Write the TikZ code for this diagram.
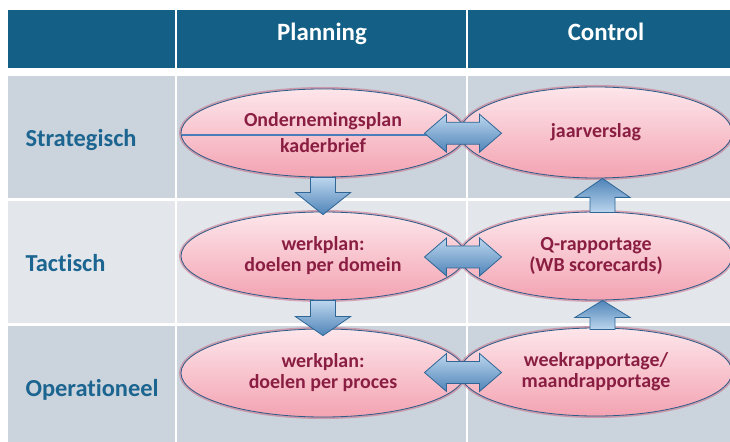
\documentclass[tikz,border=0pt]{standalone}
\usepackage{fontspec}
\setmainfont{Carlito}[Ligatures=NoCommon]
\usetikzlibrary{shapes.geometric,calc}
\definecolor{hdr}{HTML}{135F85}
\definecolor{bandA}{HTML}{CBD3DC}
\definecolor{bandB}{HTML}{E3E7EC}
\definecolor{lbl}{HTML}{1B6590}
\definecolor{ovtop}{HTML}{FDE6EB}
\definecolor{ovbot}{HTML}{F3A3B2}
\definecolor{ovedge}{HTML}{2C5C88}
\definecolor{ovglow}{HTML}{C8607E}
\definecolor{ovtext}{HTML}{8A1E42}
\definecolor{arlight}{HTML}{BCD6EE}
\definecolor{ardark}{HTML}{4F84B8}
\definecolor{aredge}{HTML}{2E6696}
\definecolor{divline}{HTML}{4A7EBB}

\begin{document}
\begin{tikzpicture}[x=1bp,y=-1bp,
  oval/.style={ellipse, inner sep=0pt, minimum width=284bp, minimum height=88bp,
    top color=ovtop, bottom color=ovbot, draw=ovedge, line width=0.8bp,
    preaction={draw=ovglow, line width=4bp, opacity=0.5},
    font=\bfseries\fontsize{20}{21}\selectfont, text=ovtext, align=center},
  ovalR/.style={oval, minimum width=272bp},
  arrowdown/.style={top color=arlight, bottom color=ardark, draw=aredge, line width=0.8bp, line join=miter},
  arrowup/.style={top color=ardark, bottom color=arlight, draw=aredge, line width=0.8bp, line join=miter},
  rowlabel/.style={anchor=base west, font=\bfseries\fontsize{24.5}{27}\selectfont, text=lbl},
  colhead/.style={anchor=base, font=\bfseries\fontsize{25}{28}\selectfont, text=white}]

\useasboundingbox (0,0) rectangle (730,442);
\fill[white] (0,0) rectangle (730,442);

% table bands
\fill[hdr] (8,10) rectangle (730,68);
\fill[bandA] (8,76) rectangle (730,198);
\fill[bandB] (8,201) rectangle (730,323);
\fill[bandA] (8,326) rectangle (730,442);
\fill[white] (175,10) rectangle (177,442);
\fill[white] (466,10) rectangle (468,442);

% headings
\node[colhead] (hplan) at (322,41) {Planning};
\node[colhead] (hctrl) at (606,41) {Control};
\node[rowlabel] (lstrat) at (22,147) {Strategisch};
\node[rowlabel] (ltact) at (22,272) {Tactisch};
\node[rowlabel] (loper) at (22,396) {Operationeel};

% documents
\node[oval, minimum height=88bp] (sp) at (323,133) {Ondernemingsplan\\[5bp]kaderbrief};
\node[ovalR, minimum height=91bp] (sc) at (596,132.5) {jaarverslag};
\node[oval, minimum height=88bp] (tp) at (323,256) {werkplan:\\doelen per domein};
\node[ovalR, minimum height=88bp] (tc) at (596,256) {Q-rapportage\\(WB scorecards)};
\node[oval, minimum height=88bp] (op) at (323,373) {werkplan:\\doelen per proces};
\node[ovalR, minimum height=88bp] (oc) at (596,372) {weekrapportage/\\maandrapportage};

% divider inside the strategic plan
\draw[divline, line width=2.5bp] ($(sp.west)+(1,2)$) -- ($(sp.east)+(-30,2)$);

% planning flows downward
\draw[arrowdown] ($(sp.south)+(-12.5,0)$) -- ($(sp.south)+(12.5,0)$)
  -- ($(tp.north)+(12.5,-19)$) -- ($(tp.north)+(27.5,-19)$) -- ($(tp.north)+(0,3)$)
  -- ($(tp.north)+(-27.5,-19)$) -- ($(tp.north)+(-12.5,-19)$) -- cycle;
\draw[arrowdown] ($(tp.south)+(-12.5,0)$) -- ($(tp.south)+(12.5,0)$)
  -- ($(op.north)+(12.5,-12)$) -- ($(op.north)+(27.5,-12)$) -- ($(op.north)+(0,7)$)
  -- ($(op.north)+(-27.5,-12)$) -- ($(op.north)+(-12.5,-12)$) -- cycle;

% control flows upward
\draw[arrowup] ($(tc.north)+(-6,1)$) -- ($(tc.north)+(19,1)$)
  -- ($(sc.south)+(19,19)$) -- ($(sc.south)+(34,19)$) -- ($(sc.south)+(6.5,0)$)
  -- ($(sc.south)+(-21,19)$) -- ($(sc.south)+(-6,19)$) -- cycle;
\draw[arrowup] ($(oc.north)+(-6,2)$) -- ($(oc.north)+(19,2)$)
  -- ($(tc.south)+(19,17)$) -- ($(tc.south)+(34,17)$) -- ($(tc.south)+(6.5,0)$)
  -- ($(tc.south)+(-21,17)$) -- ($(tc.south)+(-6,17)$) -- cycle;

% planning <-> control
\coordinate (m1) at ($(sp.east)!0.5!(sc.west)+(0.5,0.5)$);
\coordinate (m2) at ($(tp.east)!0.5!(tc.west)+(0.5,1)$);
\coordinate (m3) at ($(op.east)!0.5!(oc.west)+(0.5,0)$);
\foreach \m in {m1,m2,m3}{
  \draw[arrowdown] (\m) ++(-38.5,0) -- ++(22,-19) -- ++(0,8) -- ++(33,0) -- ++(0,-8)
    -- ++(22,19) -- ++(-22,19) -- ++(0,-8) -- ++(-33,0) -- ++(0,8) -- cycle;
}
\end{tikzpicture}
\end{document}
